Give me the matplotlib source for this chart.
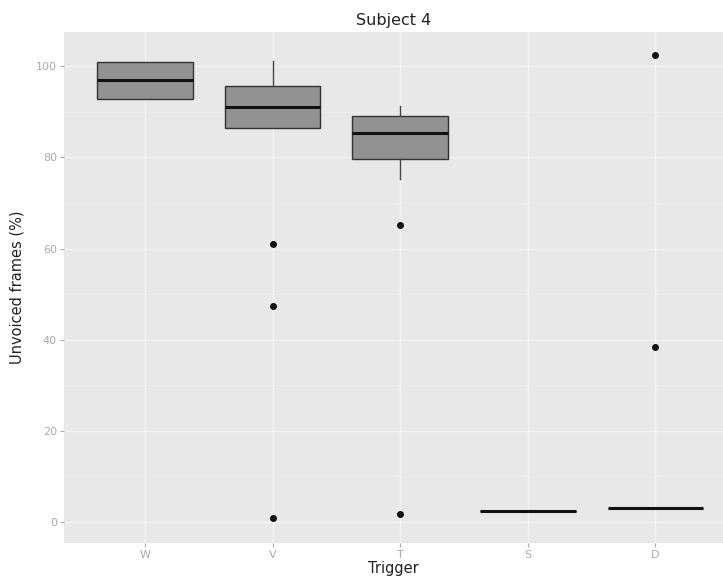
import matplotlib
matplotlib.use("Agg")
import matplotlib.pyplot as plt

# data
triggers = ["W", "V", "T", "S", "D"]
q1 = [92.7, 86.4, 79.6, 2.4, 3.1]
med = [96.9, 91.0, 85.3, 2.4, 3.1]
q3 = [100.9, 95.6, 89.0, 2.4, 3.1]
whislo = [92.7, 86.4, 75.2, 2.4, 3.1]
whishi = [100.9, 101.1, 91.2, 2.4, 3.1]
outliers = [[], [61.1, 47.5, 0.9], [65.1, 1.8], [], [102.4, 38.5]]

stats = []
for i, t in enumerate(triggers):
    stats.append({"label": t, "q1": q1[i], "med": med[i], "q3": q3[i],
                  "whislo": whislo[i], "whishi": whishi[i], "fliers": outliers[i]})

fig = plt.figure(figsize=(7.23, 5.80), dpi=100)
ax = fig.add_axes([64 / 723, 1 - 543 / 580, 659 / 723, 511 / 580])
ax.set_facecolor("#e8e8e8")

ax.set_yticks([0, 20, 40, 60, 80, 100])
ax.set_yticks([10, 30, 50, 70, 90], minor=True)
ax.grid(True, which="major", color="white", linewidth=1.0, alpha=0.45)
ax.grid(True, which="minor", axis="y", color="white", linewidth=0.5, alpha=0.3)
ax.set_axisbelow(True)

ax.bxp(stats, positions=range(1, 6), widths=0.75, patch_artist=True,
       showcaps=False,
       boxprops=dict(facecolor="#929292", edgecolor="#333333", linewidth=1.0),
       medianprops=dict(color="#111111", linewidth=2.2),
       whiskerprops=dict(color="#444444", linewidth=1.0),
       flierprops=dict(marker="o", markerfacecolor="#111111", markeredgecolor="#111111",
                       markersize=4, linestyle="none"))

ax.set_xlim(0.365, 5.53)
ax.set_ylim(-4.6, 107.5)
ax.set_xticks(range(1, 6))
ax.set_xticklabels(triggers)
for s in ax.spines.values():
    s.set_visible(False)
ax.tick_params(axis="both", which="major", colors="#aaaaaa", labelsize=8, length=3, pad=2)
ax.tick_params(axis="both", which="minor", length=0)

ax.set_title("Subject 4", fontsize=11.5, color="#222222", pad=5)
ax.set_xlabel("Trigger", fontsize=10.5, color="#222222", labelpad=1)
ax.set_ylabel("Unvoiced frames (%)", fontsize=10.5, color="#222222", labelpad=8)

fig.savefig("out.png", dpi=100)
